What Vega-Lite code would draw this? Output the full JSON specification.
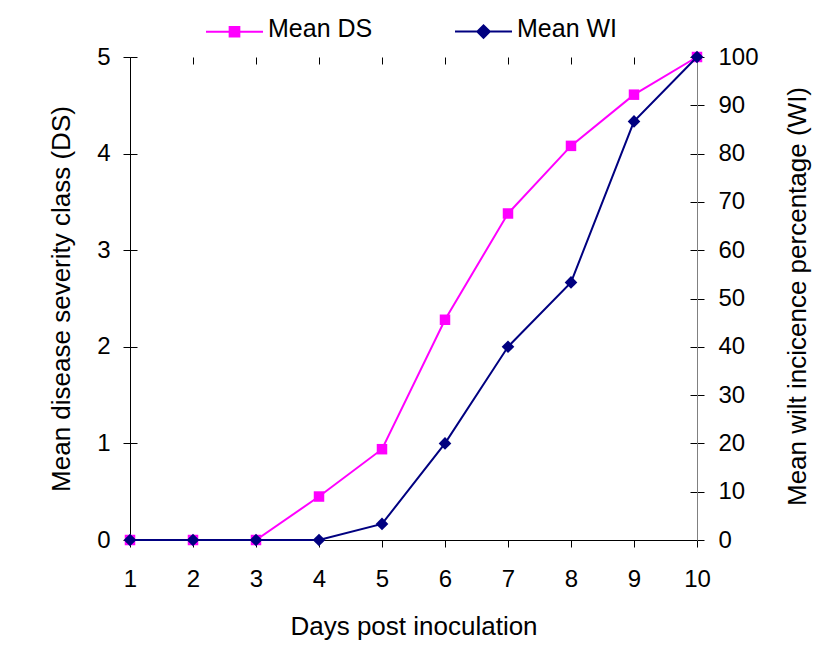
{
  "$schema": "https://vega.github.io/schema/vega-lite/v6.json",
  "width": 567,
  "height": 483,
  "autosize": {"type": "none"},
  "padding": {"left": 130, "top": 57, "right": 134, "bottom": 118},
  "background": "white",
  "config": {
    "font": "Liberation Sans",
    "view": {"stroke": null},
    "axis": {
      "labelFont": "Liberation Sans",
      "titleFont": "Liberation Sans",
      "labelColor": "black",
      "titleColor": "black",
      "titleFontWeight": "normal",
      "domainColor": "black",
      "tickColor": "black",
      "gridColor": "black",
      "gridOpacity": 1,
      "gridWidth": 1,
      "gridDash": [7, 2000],
      "labelFlush": false,
      "labelOverlap": false
    },
    "legend": {
      "labelFont": "Liberation Sans",
      "labelColor": "black"
    }
  },
  "data": {
    "values": [
      {"day": 1, "series": "Mean DS", "value": 0},
      {"day": 2, "series": "Mean DS", "value": 0},
      {"day": 3, "series": "Mean DS", "value": 0},
      {"day": 4, "series": "Mean DS", "value": 0.45},
      {"day": 5, "series": "Mean DS", "value": 0.94},
      {"day": 6, "series": "Mean DS", "value": 2.28},
      {"day": 7, "series": "Mean DS", "value": 3.38},
      {"day": 8, "series": "Mean DS", "value": 4.08},
      {"day": 9, "series": "Mean DS", "value": 4.61},
      {"day": 10, "series": "Mean DS", "value": 5.0},
      {"day": 1, "series": "Mean WI", "value": 0},
      {"day": 2, "series": "Mean WI", "value": 0},
      {"day": 3, "series": "Mean WI", "value": 0},
      {"day": 4, "series": "Mean WI", "value": 0},
      {"day": 5, "series": "Mean WI", "value": 3.33},
      {"day": 6, "series": "Mean WI", "value": 20},
      {"day": 7, "series": "Mean WI", "value": 40},
      {"day": 8, "series": "Mean WI", "value": 53.33},
      {"day": 9, "series": "Mean WI", "value": 86.67},
      {"day": 10, "series": "Mean WI", "value": 100}
    ]
  },
  "encoding": {
    "x": {
      "field": "day",
      "type": "quantitative",
      "scale": {"domain": [1, 10], "nice": false, "zero": false},
      "axis": {
        "values": [1, 2, 3, 4, 5, 6, 7, 8, 9, 10],
        "format": "d",
        "title": "Days post inoculation",
        "labelFontSize": 24,
        "titleFontSize": 26,
        "tickSize": 7,
        "labelPadding": 20,
        "grid": true,
        "titleBaseline": "alphabetic",
        "titleY": 94
      }
    },
    "color": {
      "field": "series",
      "type": "nominal",
      "scale": {"domain": ["Mean DS", "Mean WI"], "range": ["#FF00FF", "#000080"]},
      "legend": {
        "title": null,
        "orient": "none",
        "legendX": 75,
        "legendY": -55,
        "direction": "horizontal",
        "columns": 2,
        "columnPadding": 78,
        "padding": 0,
        "labelOffset": 4,
        "labelFontSize": 25,
        "symbolSize": 3249,
        "symbolStrokeWidth": 2,
        "encode": {
          "symbols": {
            "update": {
              "shape": {"signal": "datum.value === 'Mean DS' ? 'M-1,0H1M-0.17,-0.17H0.17V0.17H-0.17Z' : 'M-1,0H1M-0.22,0L0,-0.22L0.22,0L0,0.22Z'"},
              "fill": {"scale": "color", "field": "value"},
              "stroke": {"scale": "color", "field": "value"},
              "strokeWidth": {"value": 2},
              "opacity": {"value": 1}
            }
          },
          "labels": {"update": {"dy": {"value": -3}}}
        }
      }
    }
  },
  "layer": [
    {
      "transform": [{"filter": "datum.series === 'Mean DS'"}],
      "mark": {"type": "line", "strokeWidth": 2, "point": {"filled": true, "shape": "square", "size": 110, "opacity": 1}},
      "encoding": {
        "y": {
          "field": "value",
          "type": "quantitative",
          "scale": {"domain": [0, 5], "nice": false},
          "axis": {
            "orient": "left",
            "values": [0, 1, 2, 3, 4, 5],
            "title": "Mean disease severity class (DS)",
            "labelFontSize": 24,
            "titleFontSize": 26,
            "tickSize": 7,
            "labelPadding": 13,
            "grid": true,
            "titleAngle": -90,
            "titleBaseline": "alphabetic",
            "titleX": -61,
            "titleY": 241.5
          }
        }
      }
    },
    {
      "transform": [{"filter": "datum.series === 'Mean WI'"}],
      "mark": {"type": "line", "strokeWidth": 2, "point": {"filled": true, "shape": "diamond", "size": 160, "opacity": 1}},
      "encoding": {
        "y": {
          "field": "value",
          "type": "quantitative",
          "scale": {"domain": [0, 100], "nice": false},
          "axis": {
            "orient": "right",
            "values": [0, 10, 20, 30, 40, 50, 60, 70, 80, 90, 100],
            "title": "Mean wilt incicence percentage (WI)",
            "labelFontSize": 24,
            "titleFontSize": 26,
            "tickSize": 7,
            "labelPadding": 14,
            "domainColor": "#808080",
            "grid": true,
            "titleAngle": -90,
            "titleBaseline": "alphabetic",
            "titleX": 108,
            "titleY": 239
          }
        }
      }
    }
  ],
  "resolve": {"scale": {"y": "independent"}, "axis": {"y": "independent"}}
}
